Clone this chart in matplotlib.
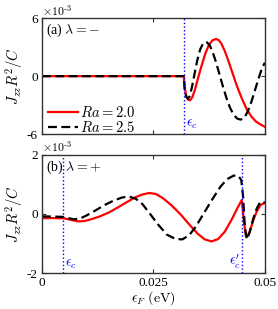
import matplotlib
matplotlib.use('Agg')
import matplotlib.pyplot as plt
import numpy as np

plt.rcParams['font.family'] = ['Liberation Serif', 'DejaVu Serif']
plt.rcParams['mathtext.fontset'] = 'cm'
plt.rcParams['font.size'] = 9.5

# ---- data (x in eV, y in units of 1e-3) ----
# panel (a), lambda = -
xa_red = [0.0, 0.0318, 0.0320, 0.0324, 0.0328, 0.0332, 0.0337, 0.0343, 0.0350,
          0.0358, 0.0366, 0.0374, 0.0382, 0.0390, 0.0396, 0.0402, 0.0410,
          0.0418, 0.0426, 0.0434, 0.0442, 0.0450, 0.0460, 0.0470, 0.0480,
          0.0490, 0.0500]
ya_red = [0.0, 0.0, -1.2, -2.1, -2.45, -2.5, -2.2, -1.4, -0.2,
          1.1, 2.3, 3.2, 3.7, 3.85, 3.75, 3.4, 2.6,
          1.6, 0.5, -0.6, -1.6, -2.5, -3.5, -4.2, -4.7,
          -5.0, -5.25]
xa_blk = [0.0, 0.0318, 0.0320, 0.0323, 0.0327, 0.0331, 0.0336, 0.0342, 0.0348,
          0.0355, 0.0362, 0.0370, 0.0376, 0.0382, 0.0390, 0.0398, 0.0406,
          0.0414, 0.0422, 0.0430, 0.0438, 0.0446, 0.0454, 0.0462, 0.0470,
          0.0478, 0.0486, 0.0494, 0.0500]
ya_blk = [0.0, 0.0, -1.3, -2.1, -2.35, -2.1, -1.2, 0.2, 1.6,
          2.8, 3.45, 3.5, 3.2, 2.6, 1.5, 0.2, -1.1,
          -2.3, -3.3, -4.0, -4.4, -4.5, -4.3, -3.6, -2.6,
          -1.4, -0.2, 0.9, 1.4]

# panel (b), lambda = +
xb_red = [0.0, 0.0030, 0.0050, 0.0065, 0.0080, 0.0095, 0.0110, 0.0130, 0.0150,
          0.0170, 0.0190, 0.0210, 0.0225, 0.0240, 0.0255, 0.0270, 0.0290,
          0.0310, 0.0330, 0.0350, 0.0365, 0.0380, 0.0395, 0.0410, 0.0425,
          0.0440, 0.0448, 0.0450, 0.0453, 0.0457, 0.0460, 0.0466, 0.0474,
          0.0482, 0.0490, 0.0500]
yb_red = [-0.14, -0.14, -0.15, -0.2, -0.25, -0.24, -0.18, -0.08, 0.05,
          0.22, 0.4, 0.57, 0.66, 0.71, 0.68, 0.55, 0.3,
          0.0, -0.35, -0.68, -0.86, -0.93, -0.85, -0.6, -0.2,
          0.25, 0.47, 0.2, -0.3, -0.65, -0.76, -0.6, -0.2,
          0.1, 0.3, 0.38]
xb_blk = [0.0, 0.0030, 0.0050, 0.0060, 0.0070, 0.0085, 0.0100, 0.0120, 0.0140,
          0.0160, 0.0180, 0.0195, 0.0210, 0.0225, 0.0240, 0.0260, 0.0280,
          0.0300, 0.0315, 0.0330, 0.0345, 0.0360, 0.0380, 0.0400, 0.0415,
          0.0430, 0.0440, 0.0447, 0.0451, 0.0454, 0.0457, 0.0460, 0.0466,
          0.0474, 0.0482, 0.0490, 0.0500]
yb_blk = [-0.08, -0.09, -0.1, -0.14, -0.18, -0.16, -0.05, 0.12, 0.3,
          0.45, 0.56, 0.59, 0.52, 0.34, 0.05, -0.35, -0.7,
          -0.85, -0.86, -0.72, -0.43, -0.05, 0.45, 0.92, 1.18,
          1.3, 1.3, 1.15, 0.6, -0.2, -0.7, -0.86, -0.6,
          -0.15, 0.2, 0.42, 0.38]

eps_c_a = 0.0318
eps_c_b = 0.0047
eps_cp_b = 0.0449

fig = plt.figure(figsize=(2.78, 3.09), dpi=100)
ax1 = fig.add_axes([0.151, 0.566, 0.802, 0.375])
ax2 = fig.add_axes([0.151, 0.1165, 0.802, 0.382])

frame = '#333333'
for ax in (ax1, ax2):
    ax.set_xlim(0, 0.05)
    ax.set_xticks([0, 0.025, 0.05])
    ax.tick_params(direction='in', top=True, right=True, length=3,
                   width=0.8, color=frame, pad=3, labelsize=9.5)
    for s in ax.spines.values():
        s.set_color(frame)
        s.set_linewidth(1.0)

ax1.plot(xa_red, np.array(ya_red) * 1e-3, color='red', lw=1.6, label='$Ra=2.0$')
ax1.plot(xa_blk, np.array(ya_blk) * 1e-3, color='black', lw=1.6, ls=(0, (4, 2)),
         label='$Ra=2.5$')
ax1.axvline(eps_c_a, color='blue', ls=':', lw=1.0)
ax1.set_ylim(-6e-3, 6e-3)
ax1.set_yticks([-6e-3, 0, 6e-3])
ax1.set_yticklabels(['-6', '0', '6'])
ax1.set_xticklabels([])
ax1.set_ylabel('$J_{zz}R^2/C$', labelpad=1, fontsize=10.5)
ax1.text(0.02, 0.97, r'(a) $\lambda = -$', transform=ax1.transAxes,
         ha='left', va='top', fontsize=10)
ax1.text(0.0, 1.0, r'$\times 10^{\text{-}3}$', transform=ax1.transAxes,
         ha='left', va='bottom', fontsize=8.5)
ax1.text(eps_c_a + 0.0005, -5.7e-3, r'$\epsilon_c$', color='blue', ha='left',
         va='bottom', fontsize=10)
ax1.legend(loc='lower left', bbox_to_anchor=(-0.02, -0.1), frameon=False,
           handlelength=2.1, handletextpad=0.1, labelspacing=0.05,
           borderpad=0.2, fontsize=10.5)

ax2.plot(xb_red, np.array(yb_red) * 1e-3, color='red', lw=1.6)
ax2.plot(xb_blk, np.array(yb_blk) * 1e-3, color='black', lw=1.6, ls=(0, (4, 2)))
ax2.axvline(eps_c_b, color='blue', ls=':', lw=1.0)
ax2.axvline(eps_cp_b, color='blue', ls=':', lw=1.0)
ax2.set_ylim(-2e-3, 2e-3)
ax2.set_yticks([-2e-3, 0, 2e-3])
ax2.set_yticklabels(['-2', '0', '2'])
ax2.set_xticklabels(['0', '0.025', '0.05'])
ax2.set_ylabel('$J_{zz}R^2/C$', labelpad=1, fontsize=10.5)
ax2.set_xlabel(r'$\epsilon_F\ (\mathrm{eV})$', labelpad=0, fontsize=10)
ax2.text(0.02, 0.97, r'(b) $\lambda = +$', transform=ax2.transAxes,
         ha='left', va='top', fontsize=10)
ax2.text(0.0, 1.0, r'$\times 10^{\text{-}3}$', transform=ax2.transAxes,
         ha='left', va='bottom', fontsize=8.5)
ax2.text(eps_c_b + 0.0005, -1.93e-3, r'$\epsilon_c$', color='blue', ha='left',
         va='bottom', fontsize=10)
ax2.text(eps_cp_b - 0.0003, -1.93e-3, r"$\epsilon_c'$", color='blue', ha='right',
         va='bottom', fontsize=10)

fig.savefig('out.png', dpi=100)
